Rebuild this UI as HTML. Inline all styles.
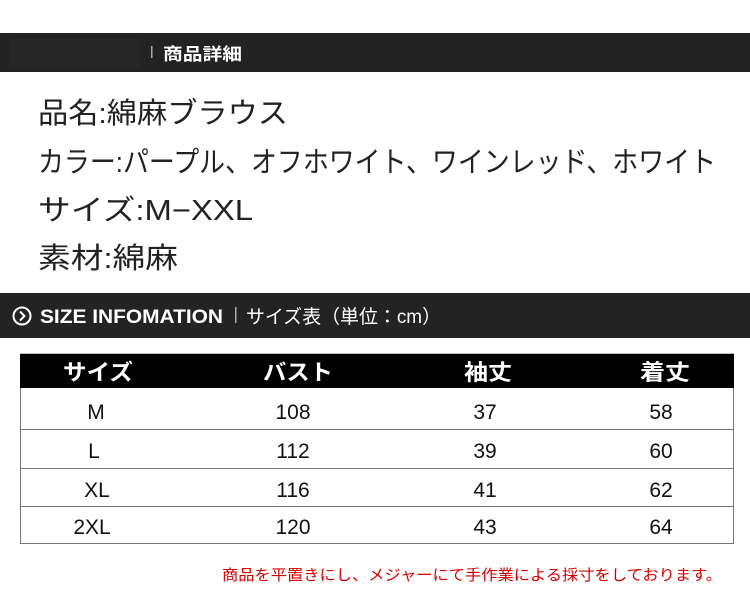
<!DOCTYPE html>
<html><head><meta charset="utf-8"><style>
html,body{margin:0;padding:0;background:#fff;}
svg{display:block}
text{font-family:"Liberation Sans","Noto Sans CJK JP",sans-serif;}
</style></head><body>
<svg width="750" height="593" viewBox="0 0 750 593" xmlns="http://www.w3.org/2000/svg">
<rect x="0" y="0" width="750" height="593" fill="#fff"/>
<!-- bar 1 -->
<rect x="0" y="33" width="750" height="39" fill="#232323"/>
<rect x="10" y="38" width="130" height="30" fill="#262626"/>
<rect x="151" y="46" width="1.5" height="12" fill="#aaa"/>
<text x="163" y="60" font-size="17" font-weight="bold" fill="#fff" textLength="79" lengthAdjust="spacingAndGlyphs">商品詳細</text>
<!-- info lines -->
<g fill="#222" font-size="29">
<text x="38" y="123" textLength="250" lengthAdjust="spacingAndGlyphs">品名:綿麻ブラウス</text>
<text x="38" y="172" textLength="678" lengthAdjust="spacingAndGlyphs">カラー:パープル、オフホワイト、ワインレッド、ホワイト</text>
<text x="38" y="220" textLength="215" lengthAdjust="spacingAndGlyphs">サイズ:M−XXL</text>
<text x="38" y="268" textLength="140" lengthAdjust="spacingAndGlyphs">素材:綿麻</text>
</g>
<!-- bar 2 -->
<rect x="0" y="293" width="750" height="45" fill="#232323"/>
<circle cx="22" cy="316" r="8.5" fill="none" stroke="#fff" stroke-width="2"/>
<path d="M20 311.5 L24.5 316 L20 320.5" fill="none" stroke="#fff" stroke-width="2"/>
<text x="40" y="323" font-size="19" font-weight="bold" fill="#fff" textLength="183" lengthAdjust="spacingAndGlyphs">SIZE INFOMATION</text>
<rect x="235" y="307" width="1.5" height="16" fill="#aaa"/>
<text x="246" y="323" font-size="19" fill="#fff" textLength="195" lengthAdjust="spacingAndGlyphs">サイズ表（単位：cm）</text>
<!-- table -->
<rect x="20.5" y="354" width="713" height="189.5" fill="#fff" stroke="#777" stroke-width="1"/>
<rect x="20" y="354" width="714" height="34" fill="#000"/>
<g fill="#fff" font-size="22" font-weight="bold">
<text x="63" y="380" textLength="70" lengthAdjust="spacingAndGlyphs">サイズ</text>
<text x="263" y="380" textLength="70" lengthAdjust="spacingAndGlyphs">バスト</text>
<text x="464" y="380" textLength="48" lengthAdjust="spacingAndGlyphs">袖丈</text>
<text x="640" y="380" textLength="50" lengthAdjust="spacingAndGlyphs">着丈</text>
</g>
<g stroke="#777" stroke-width="1">
<line x1="20" y1="429.5" x2="734" y2="429.5"/>
<line x1="20" y1="468.5" x2="734" y2="468.5"/>
<line x1="20" y1="506.5" x2="734" y2="506.5"/>
</g>
<g fill="#111" font-size="21" text-anchor="middle" font-family="Liberation Sans Narrow, Liberation Sans, sans-serif">
<text x="96" y="419">M</text><text x="293" y="419">108</text><text x="485" y="419">37</text><text x="661" y="419">58</text>
<text x="94" y="458">L</text><text x="293" y="458">112</text><text x="485" y="458">39</text><text x="661" y="458">60</text>
<text x="97" y="497">XL</text><text x="293" y="497">116</text><text x="485" y="497">41</text><text x="661" y="497">62</text>
<text x="92" y="534">2XL</text><text x="293" y="534">120</text><text x="485" y="534">43</text><text x="661" y="534">64</text>
</g>
<text x="222" y="580" font-size="15" fill="#d40000" textLength="500" lengthAdjust="spacingAndGlyphs">商品を平置きにし、メジャーにて手作業による採寸をしております。</text>
</svg>
</body></html>
